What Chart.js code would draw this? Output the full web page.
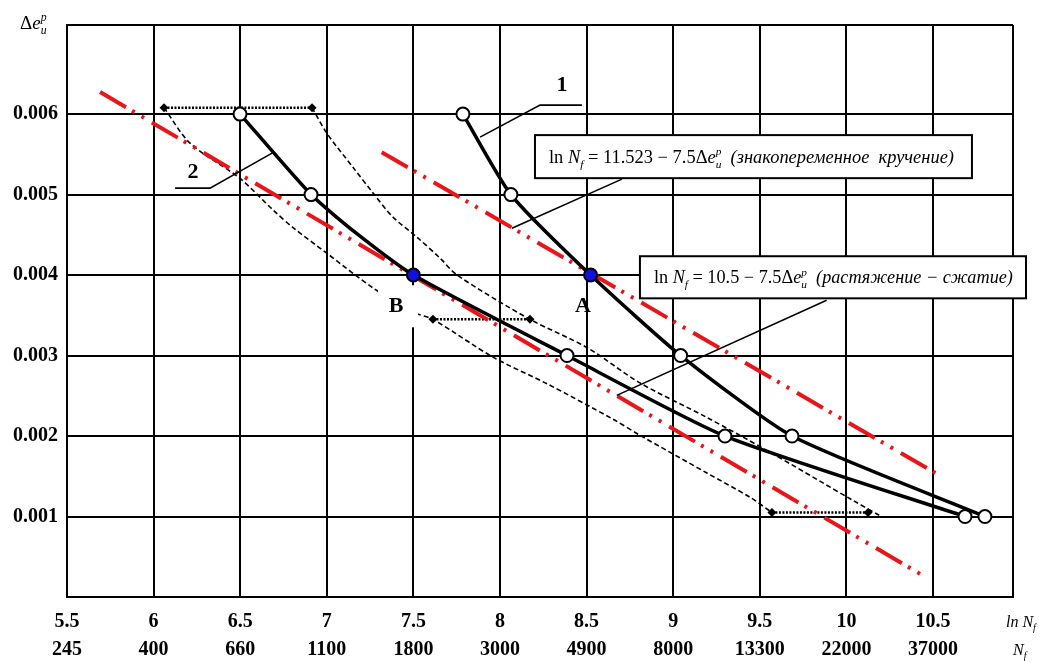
<!doctype html>
<html lang="ru">
<head>
<meta charset="utf-8">
<title>Кривые усталости</title>
<script src="https://cdn.jsdelivr.net/npm/chart.js"></script>
<style>
  html, body { margin: 0; padding: 0; background: #fff; }
  #wrap { width: 1045px; height: 662px; }
</style>
</head>
<body>
<div id="wrap"><canvas id="chart" width="1045" height="662"></canvas></div>
<script>
  //------------------------------ data ------------------------------
  const lnN = [5.5, 6, 6.5, 7, 7.5, 8, 8.5, 9, 9.5, 10, 10.5]
  const Nf = [245, 400, 660, 1100, 1800, 3000, 4900, 8000, 13300, 22000, 37000]
  const strainTicks = [0.001, 0.002, 0.003, 0.004, 0.005, 0.006]

  // curve 1 - alternating torsion
  const torsionX = [7.786, 8.063, 8.523, 9.043, 9.686, 10.800]
  const torsionY = [0.006, 0.005, 0.004, 0.003, 0.002, 0.001]
  // curve 2 - tension-compression
  const tensionX = [6.499, 6.909, 7.17, 7.5, 8.387, 9.299, 10.685]
  const tensionY = [0.006, 0.005, 0.00452, 0.004, 0.003, 0.002, 0.001]

  // fitted lines (red)
  const fitTorsionX = [7.317, 10.521]
  const fitTorsionY = [0.005527, 0.001531]
  const fitTensionX = [5.691, 10.442]
  const fitTensionY = [0.006274, 0.000266]

  // scatter band (thin dashed)
  const lowerBandX = [6.060, 6.210, 6.499, 6.689, 6.805, 7.001, 7.267, 7.509, 7.613, 7.960, 8.271, 8.652, 8.808, 9.195, 9.443, 9.570]
  const lowerBandY = [0.00608, 0.00564, 0.00520, 0.00481, 0.00459, 0.00427, 0.00384, 0.00353, 0.00345, 0.00298, 0.00265, 0.00221, 0.00201, 0.00154, 0.00124, 0.00105]
  const upperBandX = [6.915, 7.001, 7.151, 7.267, 7.382, 7.521, 7.654, 7.752, 8.173, 8.502, 8.808, 9.195, 9.542, 10.038, 10.194]
  const upperBandY = [0.00608, 0.00576, 0.00534, 0.00502, 0.00472, 0.00447, 0.00421, 0.00400, 0.00345, 0.00310, 0.00266, 0.00223, 0.00182, 0.00120, 0.00101]

  // scatter bars (dotted, with diamonds)
  const barX = [[6.060, 6.915], [7.613, 8.173], [9.570, 10.125]]
  const barY = [0.00608, 0.00345, 0.00105]

  //------------------------------ helpers ------------------------------
  const pts = (xs, ys) => xs.map((x, i) => ({ x: x, y: ys[i] }))
  const barPts = []
  barX.forEach((b, i) => {
    barPts.push({ x: b[0], y: barY[i] }, { x: b[1], y: barY[i] })
    if (i < barX.length - 1) barPts.push({ x: (b[1] + barX[i + 1][0]) / 2, y: null })
  })

  const SERIF = "'Liberation Serif', 'Times New Roman', serif"
  Chart.defaults.font.family = SERIF
  Chart.defaults.color = '#000'

  const white = '#ffffff', blue = '#1010e0'
  const tensionMarks = [6.5, 6.5, 0, 6.5, 6.5, 6.5, 6.5]
  const tensionFill = [white, white, white, blue, white, white, white]
  const torsionFill = [white, white, blue, white, white, white]

  // rich text: segments {t, i: italic, s: 'sub'|'sup', stack}
  const rich = (ctx, segs, x, y, size, targetW) => {
    const measure = () => {
      let cx = 0, subStart = 0
      segs.forEach(s => {
        const fs = s.s ? size * 0.62 : size
        ctx.font = `${s.i ? 'italic ' : ''}${fs}px ${SERIF}`
        const w = ctx.measureText(s.t).width
        const sx = s.stack ? subStart : cx
        if (s.s === 'sub') subStart = cx
        cx = s.stack ? Math.max(cx, sx + w) : sx + w
      })
      return cx
    }
    const natural = measure()
    const k = targetW ? targetW / natural : 1
    ctx.save()
    ctx.translate(x, y)
    ctx.scale(k, 1)
    ctx.textBaseline = 'alphabetic'
    ctx.textAlign = 'left'
    let cx = 0, subStart = 0
    segs.forEach(s => {
      const fs = s.s ? size * 0.62 : size
      ctx.font = `${s.i ? 'italic ' : ''}${fs}px ${SERIF}`
      const dy = s.s === 'sub' ? size * 0.28 : s.s === 'sup' ? -size * 0.42 : 0
      const sx = s.stack ? subStart : cx
      if (s.s === 'sub') subStart = cx
      ctx.fillText(s.t, sx, dy)
      const w = ctx.measureText(s.t).width
      cx = s.stack ? Math.max(cx, sx + w) : sx + w
    })
    ctx.restore()
  }

  const eqTorsion = [
    { t: 'ln ' }, { t: 'N', i: 1 }, { t: 'f', i: 1, s: 'sub' }, { t: ' = 11.523 − 7.5Δ' },
    { t: 'e', i: 1 }, { t: 'и', i: 1, s: 'sub' }, { t: 'p', i: 1, s: 'sup', stack: 1 },
    { t: '  (знакопеременное  кручение)', i: 1 }
  ]
  const eqTension = [
    { t: 'ln ' }, { t: 'N', i: 1 }, { t: 'f', i: 1, s: 'sub' }, { t: ' = 10.5 − 7.5Δ' },
    { t: 'e', i: 1 }, { t: 'и', i: 1, s: 'sub' }, { t: 'p', i: 1, s: 'sup', stack: 1 },
    { t: '  (растяжение − сжатие)', i: 1 }
  ]

  // annotation layout in data units
  const notes = {
    boxes: [
      { x0: 8.202, x1: 10.725, y0: 0.005739, y1: 0.005204, segs: eqTorsion, textW: 405 },
      { x0: 8.808, x1: 11.037, y0: 0.004234, y1: 0.003711, segs: eqTension, textW: 359 }
    ],
    leaders: [
      [[8.473, 0.006112], [8.231, 0.006112], [7.885, 0.005714]],
      [[6.124, 0.00508], [6.326, 0.00508], [6.684, 0.005515]],
      [[8.704, 0.005192], [8.069, 0.004582]],
      [[9.886, 0.003687], [8.674, 0.002505]]
    ],
    labels: [
      { t: '1', x: 8.358, y: 0.006361 },
      { t: '2', x: 6.227, y: 0.005279 },
      { t: 'A', x: 8.479, y: 0.003612 },
      { t: 'B', x: 7.400, y: 0.003612, mask: [7.296, 7.527, 0.003873, 0.003351] }
    ]
  }

  const notesPlugin = {
    id: 'notes',
    afterDatasetsDraw(chart) {
      const ctx = chart.ctx
      const xs = chart.scales.x, ys = chart.scales.y
      const px = v => xs.getPixelForValue(v), py = v => ys.getPixelForValue(v)
      ctx.save()
      // masks behind labels
      notes.labels.forEach(l => {
        if (!l.mask) return
        ctx.fillStyle = '#fff'
        ctx.fillRect(px(l.mask[0]), py(l.mask[2]), px(l.mask[1]) - px(l.mask[0]), py(l.mask[3]) - py(l.mask[2]))
      })
      // leader lines
      ctx.strokeStyle = '#000'
      ctx.lineWidth = 1.6
      notes.leaders.forEach(ln => {
        ctx.beginPath()
        ln.forEach((p, i) => i ? ctx.lineTo(px(p[0]), py(p[1])) : ctx.moveTo(px(p[0]), py(p[1])))
        ctx.stroke()
      })
      // equation boxes
      notes.boxes.forEach(b => {
        const x0 = px(b.x0), x1 = px(b.x1), y0 = py(b.y0), y1 = py(b.y1)
        ctx.fillStyle = '#fff'
        ctx.fillRect(x0, y0, x1 - x0, y1 - y0)
        ctx.lineWidth = 2
        ctx.strokeRect(x0, y0, x1 - x0, y1 - y0)
        ctx.fillStyle = '#000'
        rich(ctx, b.segs, x0 + 14, (y0 + y1) / 2 + 6, 18, b.textW)
      })
      // bold labels
      ctx.fillStyle = '#000'
      ctx.font = `bold 22px ${SERIF}`
      ctx.textAlign = 'center'
      ctx.textBaseline = 'middle'
      notes.labels.forEach(l => ctx.fillText(l.t, px(l.x), py(l.y)))
      // axis titles
      const area = chart.chartArea
      rich(ctx, [{ t: 'Δ' }, { t: 'e', i: 1 }, { t: 'и', i: 1, s: 'sub' }, { t: 'p', i: 1, s: 'sup', stack: 1 }],
        20, area.top + 4, 19)
      rich(ctx, [{ t: 'ln ', i: 1 }, { t: 'N', i: 1 }, { t: 'f', i: 1, s: 'sub' }], area.right - 7, area.bottom + 30, 16)
      rich(ctx, [{ t: 'N', i: 1 }, { t: 'f', i: 1, s: 'sub' }], area.right, area.bottom + 58, 16)
      ctx.restore()
    }
  }

  //------------------------------ chart ------------------------------
  const xMax = 10.962, yMax = 0.007107

  new Chart(document.getElementById('chart'), {
    type: 'scatter',
    data: {
      datasets: [
        {
          data: pts(torsionX, torsionY), showLine: true, borderColor: '#000', borderWidth: 3.5,
          tension: 0.2, pointRadius: 6.5, pointBackgroundColor: torsionFill,
          pointBorderColor: '#000', pointBorderWidth: 2
        },
        {
          data: pts(tensionX, tensionY), showLine: true, borderColor: '#000', borderWidth: 3.5,
          tension: 0.2, pointRadius: tensionMarks, pointBackgroundColor: tensionFill,
          pointBorderColor: '#000', pointBorderWidth: 2
        },
        {
          data: pts(fitTorsionX, fitTorsionY), showLine: true, borderColor: '#e8161b', borderWidth: 4,
          borderDash: [30, 7, 3, 8, 3, 9], pointRadius: 0
        },
        {
          data: pts(fitTensionX, fitTensionY), showLine: true, borderColor: '#e8161b', borderWidth: 4,
          borderDash: [30, 7, 3, 8, 3, 9], pointRadius: 0
        },
        {
          data: barPts, showLine: true, spanGaps: false, borderColor: '#000', borderWidth: 2.5,
          borderDash: [2, 1.5], pointStyle: 'rectRot', pointRadius: 4.5,
          pointBackgroundColor: '#000', pointBorderColor: '#000', pointBorderWidth: 0
        },
        {
          data: pts(lowerBandX, lowerBandY), showLine: true, borderColor: '#000', borderWidth: 1.6,
          borderDash: [5, 3], tension: 0.3, pointRadius: 0
        },
        {
          data: pts(upperBandX, upperBandY), showLine: true, borderColor: '#000', borderWidth: 1.6,
          borderDash: [5, 3], tension: 0.3, pointRadius: 0
        }
      ]
    },
    options: {
      responsive: false,
      animation: false,
      events: [],
      layout: { padding: { top: 25, right: 32, left: 0, bottom: 0 } },
      plugins: { legend: { display: false }, tooltip: { enabled: false } },
      scales: {
        x: {
          type: 'linear', min: 5.5, max: xMax,
          afterBuildTicks: axis => { axis.ticks = lnN.concat([xMax]).map(v => ({ value: v })) },
          afterFit: axis => { axis.height = 65; axis.paddingLeft = 0; axis.paddingRight = 0 },
          grid: { color: '#000', lineWidth: 2, drawTicks: false },
          border: { color: '#000', width: 2 },
          ticks: {
            padding: 11, maxRotation: 0, autoSkip: false,
            font: { size: 20, weight: 'bold', lineHeight: 1.4 },
            callback: v => {
              const i = lnN.findIndex(t => Math.abs(t - v) < 1e-6)
              return i < 0 ? '' : [String(lnN[i]), String(Nf[i])]
            }
          }
        },
        y: {
          type: 'linear', min: 0, max: yMax,
          afterBuildTicks: axis => { axis.ticks = [0].concat(strainTicks, [yMax]).map(v => ({ value: v })) },
          afterFit: axis => { axis.width = 67; axis.paddingTop = 0; axis.paddingBottom = 0 },
          grid: { color: '#000', lineWidth: 2, drawTicks: false },
          border: { color: '#000', width: 2 },
          ticks: {
            padding: 9, autoSkip: false,
            font: { size: 20, weight: 'bold' },
            callback: v => {
              const i = strainTicks.findIndex(t => Math.abs(t - v) < 1e-9)
              return i < 0 ? '' : strainTicks[i].toFixed(3)
            }
          }
        }
      }
    },
    plugins: [notesPlugin]
  })
</script>
</body>
</html>
